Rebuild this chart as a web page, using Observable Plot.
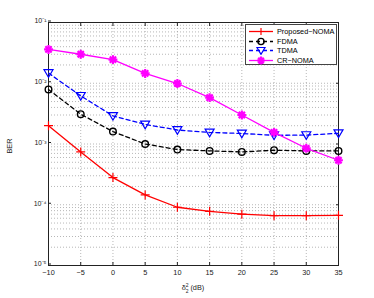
<!DOCTYPE html>
<html><head><meta charset="utf-8">
<script src="https://cdn.jsdelivr.net/npm/d3@7"></script>
<script src="https://cdn.jsdelivr.net/npm/@observablehq/plot@0.6"></script>
<style>
body{margin:0;background:#fff;font-family:"Liberation Sans",Arial,sans-serif;}
#wrap{position:relative;width:374px;height:298px;}
#legend{position:absolute;left:245px;top:24px;width:92px;height:41px;border:1px solid #444;background:#fff;font-size:7.3px;box-sizing:border-box;padding-top:2px;}
#legend .row{display:flex;align-items:center;height:9.5px;}
#legend svg{margin-left:2px;margin-right:3px;}
</style></head>
<body><div id="wrap"><div id="chart"></div><div id="legend"></div></div>
<script>
const snr = [-10,-5,0,5,10,15,20,25,30,35];
const proposedNOMA = [0.0020,0.00074,0.00028,0.000145,0.000091,0.000078,0.00007,0.000066,0.000066,0.000067];
const fdma = [0.0079,0.0031,0.0016,0.0010,0.00081,0.00077,0.00074,0.00079,0.00077,0.00077];
const tdma = [0.0147,0.0062,0.0029,0.0021,0.0017,0.00155,0.00149,0.00139,0.0014,0.0015];
const crNOMA = [0.036,0.030,0.0245,0.0145,0.0099,0.0058,0.0030,0.00155,0.00085,0.00054];
const seriesNames = ["Proposed\u2212NOMA","FDMA","TDMA","CR\u2212NOMA"];
const xTicks = [-10,-5,0,5,10,15,20,25,30,35];
const yTicks = [1e-5,1e-4,1e-3,1e-2,1e-1];
const yTickLabels = ["10\u207B\u2075","10\u207B\u2074","10\u207B\u00B3","10\u207B\u00B2","10\u207B\u00B9"];

const minorY = [];
for (let e=-5;e<-1;e++) for (let m=1;m<10;m++) minorY.push(m*Math.pow(10,e));

const triDown = {draw(ctx,size){const r=Math.sqrt(size/3)*1.1;ctx.moveTo(-r,-r*0.75);ctx.lineTo(r,-r*0.75);ctx.lineTo(0,r*0.95);ctx.closePath();}};
const star = {draw(ctx,size){const r=Math.sqrt(size)/1.6;for(let i=0;i<4;i++){const a=i*Math.PI/4;ctx.moveTo(-r*Math.cos(a),-r*Math.sin(a));ctx.lineTo(r*Math.cos(a),r*Math.sin(a));}}};

const styles = [
 {name:seriesNames[0],vals:proposedNOMA,color:"#ff0000",dash:null,symbol:"plus",fill:"none",sw:1.2,r:3},
 {name:seriesNames[1],vals:fdma,color:"#000000",dash:"4,3",symbol:"circle",fill:"none",sw:1.4,r:3.3},
 {name:seriesNames[2],vals:tdma,color:"#0000ff",dash:"4,3",symbol:triDown,fill:"none",sw:1.2,r:4},
 {name:seriesNames[3],vals:crNOMA,color:"#ff00ff",dash:null,symbol:star,fill:"none",sw:2.2,r:4}
];

const marks = [
  Plot.gridY(minorY,{stroke:"#999",strokeOpacity:0.7,strokeDasharray:"1,2"}),
  Plot.gridX(xTicks,{stroke:"#999",strokeOpacity:0.7,strokeDasharray:"1,2"}),
  Plot.axisX({ticks:xTicks,tickSize:-3,tickFormat:d=>d<0?"\u2212"+(-d):String(d),fontSize:7.3,tickPadding:7,label:null}),
  Plot.axisX({anchor:"top",ticks:xTicks,tickSize:-3,tickFormat:()=>"",label:null}),
  Plot.axisY({ticks:yTicks,tickSize:-3,tickFormat:(d,i)=>yTickLabels[yTicks.indexOf(d)],fontSize:7,tickPadding:5,dy:-1.5,label:null}),
  Plot.axisY({anchor:"right",ticks:yTicks,tickSize:-3,tickFormat:()=>"",label:null}),
  Plot.frame({stroke:"#222",strokeWidth:1})
];
for (const s of styles){
  const data = snr.map((x,i)=>({x,y:s.vals[i]}));
  marks.push(Plot.line(data,{x:"x",y:"y",stroke:s.color,strokeWidth:1.3,strokeDasharray:s.dash}));
  marks.push(Plot.dot(data,{x:"x",y:"y",stroke:s.color,fill:s.fill,symbol:s.symbol,r:s.r,strokeWidth:s.sw}));
}

const chart = Plot.plot({
  width:374,height:298,
  marginLeft:48,marginRight:36,marginTop:22,marginBottom:33,
  style:{fontFamily:"Liberation Sans, Arial, sans-serif",fontSize:"7.3px",color:"#222",background:"#fff"},
  x:{domain:[-10,35]},
  y:{type:"log",domain:[1e-5,1e-1]},
  marks
});
document.getElementById("chart").appendChild(chart);

const svg = d3.select(chart);
svg.append("text").attr("x",193).attr("y",290).attr("text-anchor","middle").attr("font-size","7.3px").attr("fill","#222")
  .html('\u03B4<tspan dy="3" font-size="5px">2</tspan><tspan dx="-3" dy="-6" font-size="5px">2</tspan><tspan dy="3"> (dB)</tspan>');
svg.append("text").attr("transform","translate(12,146) rotate(-90)").attr("text-anchor","middle").attr("font-size","7.3px").attr("fill","#222").text("BER");

const leg = d3.select("#legend");
for (const s of styles){
  const row = leg.append("div").attr("class","row");
  const sv = row.append("svg").attr("width",26).attr("height",9);
  sv.append("line").attr("x1",1).attr("x2",25).attr("y1",4.5).attr("y2",4.5).attr("stroke",s.color).attr("stroke-width",1.3).attr("stroke-dasharray",s.dash);
  let p;
  if (s.symbol==="plus") p = "M-3.5,0L3.5,0M0,-3.5L0,3.5";
  else if (s.symbol==="circle") p = d3.symbol(d3.symbolCircle, 30)();
  else p = d3.symbol(s.symbol, 40)();
  sv.append("path").attr("d",p).attr("transform","translate(13,4.5)").attr("fill","none").attr("stroke",s.color).attr("stroke-width",s.sw);
  row.append("span").text(s.name);
}
</script></body></html>
